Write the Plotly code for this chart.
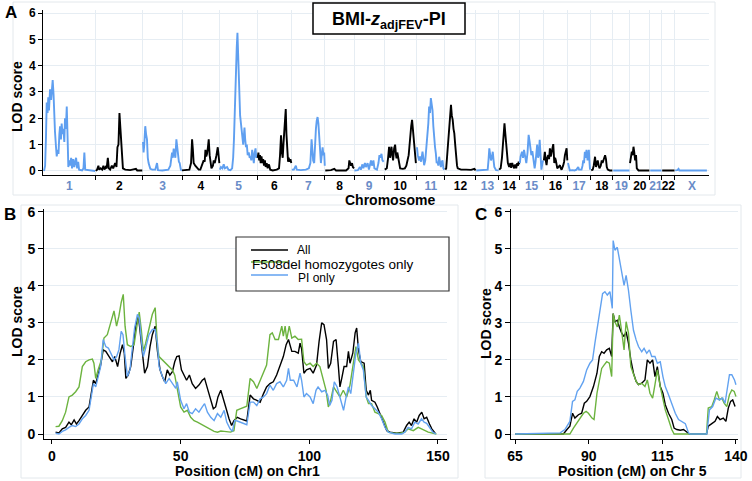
import plotly.graph_objects as go

W, H = 752, 481

# ---------------- Panel A: genome scan ----------------
chrom_names = [str(i) for i in range(1, 23)] + ["X"]
chrom_len_cm = [150, 134, 111, 107, 107, 97, 95, 83, 85, 92, 81, 88,
                65, 59, 68, 68, 66, 63, 48, 57, 34, 37, 97]

chr1_pos = [3, 6, 8.5, 10.5, 13, 15, 17, 20, 23, 25.5, 27.5, 30, 32, 34, 37, 39, 41.5, 44, 46.5, 48.5,
            51, 53, 55.5, 58, 60.5, 62.5, 65, 67.5, 70, 72, 74.5, 77, 80, 82.5, 85.5, 89, 92, 94, 97, 100,
            102.5, 111, 115, 117.5, 120, 148]
chr1_lod = [0.0, 0.2, 1.3, 2.6, 2.2, 2.8, 2.3, 3.1, 2.7, 3.2, 3.45, 2.9, 1.9, 1.5, 0.9, 0.55, 0.8, 0.65, 1.4, 1.7,
            1.2, 1.8, 1.4, 1.6, 1.1, 2.0, 1.6, 2.45, 1.2, 0.15, 0.4, 0.2, 0.5, 0.1, 0.45, 0.15, 0.4, 0.5, 0.1, 0.35,
            0.05, 0.02, 0.1, 0.7, 0.05, 0.0]
chr2_pos = [0, 3.7, 7.4, 9.4, 13.7, 18, 21.7, 24.5, 28, 30.8, 34.2, 37, 40.7, 45.6, 49.3, 55, 58.7, 61.5, 64.4,
            67.2, 70, 72, 75, 77, 83.5, 97.7, 114, 117.6, 132]
chr2_lod = [0.0, 0.05, 0.2, 0.05, 0.1, 0.05, 0.2, 0.05, 0.15, 0.1, 0.5, 0.1, 0.05, 0.2, 0.1, 0.3, 0.15, 0.9, 1.0,
            2.2, 1.6, 1.0, 0.3, 0.1, 0.05, 0.03, 0.08, 0.02, 0.02]
chr3_pos = [0, 1.7, 3.7, 6.5, 8.8, 11.4, 13.7, 16, 20.8, 26.5, 35, 39.9, 42.7, 55, 72, 77.8, 82.6, 84.9, 87.2,
            90, 92, 94.9, 97, 99.7, 102, 104.3, 107.7, 110.5]
chr3_lod = [1.1, 0.7, 1.0, 1.7, 1.4, 1.2, 0.5, 0.3, 0.08, 0.05, 0.05, 0.3, 0.03, 0.02, 0.05, 0.2, 0.7, 0.5, 0.85,
            0.6, 0.5, 1.2, 0.9, 0.55, 0.35, 0.3, 0.05, 0.02]
chr4_pos = [0, 12, 20.8, 25.6, 28.5, 30.8, 33, 37.6, 42.7, 47.3, 52, 57, 61.5, 64.4, 66.4, 68.7, 71, 73.5, 75.8,
            78.4, 80.6, 83.5, 87.8, 90, 93, 95.5, 97.8, 101.5, 103.5, 106]
chr4_lod = [0.02, 0.03, 0.05, 0.3, 1.2, 0.8, 0.3, 0.2, 0.1, 0.05, 0.05, 0.2, 0.4, 0.35, 0.8, 0.55, 0.65, 0.9, 1.2,
            0.6, 0.3, 0.1, 0.2, 0.4, 0.3, 0.55, 0.6, 0.9, 0.6, 0.3]
chr5_pos = [0.5, 3.4, 7.7, 11.4, 14.8, 21, 24.8, 30.5, 35.3, 38.2, 40.5, 42.7, 44.7, 46.7, 48.4, 50.4, 52, 54,
            56, 58, 60.4, 62.4, 64.7, 66.7, 69, 70.4, 72.4, 74.6, 77, 79.5, 82.6, 85.2, 87.5, 89.7, 92.3, 94.6,
            96.9, 99.4, 101.7, 104, 106]
chr5_lod = [0.05, 0.15, 0.1, 0.25, 0.1, 0.15, 0.05, 0.03, 0.1, 0.5, 1.2, 2.5, 3.2, 4.2, 4.7, 5.25, 4.4, 3.8,
            2.6, 2.1, 1.8, 1.5, 1.2, 1.0, 1.4, 1.65, 1.2, 0.9, 1.0, 0.6, 0.7, 0.5, 0.55, 0.4, 0.8, 0.5,
            0.3, 0.7, 0.86, 0.5, 0.55]
chr6_pos = [0.9, 3, 5, 7.4, 9.4, 11.7, 14.2, 16.5, 18.8, 21.4, 23.6, 26.5, 29.3, 33, 36.5, 43.6, 55, 61.5, 64.4,
            67.2, 69.8, 72, 74, 76.4, 78.6, 80.6, 82.6, 84.9, 87.2, 89, 91.4, 93.9, 96.3]
chr6_lod = [0.5, 0.7, 0.4, 0.6, 0.3, 0.55, 0.3, 0.45, 0.2, 0.4, 0.15, 0.3, 0.1, 0.25, 0.05, 0.02, 0.05, 0.1, 0.6,
            1.35, 0.7, 0.5, 1.0, 1.4, 1.8, 2.35, 1.4, 0.5, 0.35, 0.5, 0.35, 0.45, 0.3]
chr7_pos = [0.9, 6.6, 12.3, 15, 26.5, 40.7, 49.3, 53.6, 57, 59.3, 61.5, 64.4, 67, 69.3, 71.5, 74, 76.4, 78.7,
            81.2, 83.5, 85.8, 88.3, 90.6, 92.8, 94.5]
chr7_lod = [0.05, 0.05, 0.2, 0.05, 0.03, 0.05, 0.1, 0.3, 1.2, 0.8, 0.4, 0.3, 1.2, 1.6, 1.9, 2.05, 1.8, 1.2,
            0.7, 0.3, 0.6, 0.9, 0.6, 0.7, 0.2]
chr8_pos = [0.9, 17, 26.5, 31.3, 60, 67, 69.2, 71.8, 74, 77, 79.2, 82.6]
chr8_lod = [0.02, 0.03, 0.08, 0.02, 0.02, 0.1, 0.4, 0.3, 0.2, 0.3, 0.15, 0.1]
chr9_pos = [0.6, 10.5, 16.2, 19, 23.4, 26.2, 30.5, 33.3, 38.2, 41.9, 47.7, 50.4, 54.7, 57.5, 64.7, 69, 71.8,
            74.6, 77.5, 80.3, 83.8]
chr9_lod = [0.02, 0.03, 0.15, 0.05, 0.25, 0.1, 0.3, 0.15, 0.3, 0.05, 0.4, 0.2, 0.4, 0.1, 0.05, 0.3, 0.6,
            0.5, 0.65, 0.4, 0.35]
chr10_pos = [2, 7.7, 11.4, 14.2, 17, 21, 23.4, 25.6, 28.5, 31.3, 33.9, 35.3, 37.6, 39.9, 42.7, 45.6, 53.3, 59,
             63.2, 66.7, 69.8, 71.8, 74, 77, 79.5, 81.8, 83.8, 85.5, 88, 90.3]
chr10_lod = [0.05, 0.1, 0.5, 0.92, 0.5, 0.92, 0.6, 0.4, 0.86, 1.0, 0.6, 0.48, 0.7, 0.54, 0.2, 0.1, 0.08, 0.1,
             0.2, 0.4, 0.6, 0.9, 1.43, 1.7, 1.94, 1.6, 1.3, 0.92, 0.45, 0.3]
chr11_pos = [1.4, 3.7, 7.4, 10.3, 13.1, 17.1, 19.4, 21.7, 25, 28, 30.8, 33.6, 35.9, 38.5, 40.8, 43, 45.6, 47.9,
             50, 52.7, 55, 57.3, 59.8, 62, 64.4, 67, 69.3, 72, 74, 76.4, 79]
chr11_lod = [0.9, 0.6, 0.4, 0.55, 0.35, 0.73, 0.5, 0.22, 0.4, 0.8, 1.3, 1.8, 2.45, 2.2, 2.77, 2.5, 2.3, 1.7,
             1.18, 0.9, 0.67, 0.3, 0.35, 0.2, 0.54, 0.3, 0.15, 0.35, 0.4, 0.1, 0.05]
chr12_pos = [0.9, 3.4, 5.7, 7.7, 10, 12.3, 14.8, 17, 19.4, 21.9, 24.2, 26.5, 29, 31.3, 34.2, 36.2, 45.6, 60,
             74, 83.5, 87]
chr12_lod = [0.05, 0.1, 0.5, 0.92, 1.3, 1.81, 2.0, 2.51, 2.1, 1.94, 1.6, 1.43, 1.0, 0.54, 0.2, 0.1, 0.05, 0.05,
             0.04, 0.08, 0.02]
chr13_pos = [0.9, 14.2, 25.6, 33.3, 35.6, 37.9, 40.5, 42.7, 45, 47.7, 50, 52.1, 57, 64.4]
chr13_lod = [0.02, 0.03, 0.05, 0.05, 0.4, 0.86, 0.6, 0.4, 0.5, 0.73, 0.4, 0.15, 0.03, 0.02]
chr14_pos = [0.9, 5.1, 8.8, 11.4, 13.7, 16, 18.5, 20.8, 23, 25.6, 29.3, 32.8, 35, 37.9, 39.9, 43.6, 46.5, 49.3,
             52.1, 54.1, 56.4, 58]
chr14_lod = [0.05, 0.1, 0.5, 0.92, 1.4, 1.81, 1.4, 1.05, 0.6, 0.3, 0.15, 0.3, 0.12, 0.3, 0.22, 0.1, 0.25, 0.1,
             0.3, 0.2, 0.35, 0.25]
chr15_pos = [0.6, 2.8, 6.8, 9.7, 12.5, 15.4, 19, 22.5, 25.6, 28.5, 30.5, 33.3, 36.2, 38.2, 40.5, 42.7, 45.3,
             47.6, 49.9, 52.4, 54.7, 57, 59.6, 61.9, 64.7, 66.7]
chr15_lod = [0.3, 0.55, 0.73, 0.5, 0.8, 0.55, 0.3, 0.7, 1.37, 1.1, 0.73, 0.6, 0.75, 0.54, 0.3, 0.1, 0.35,
             0.6, 1.0, 0.5, 0.6, 1.18, 0.6, 0.05, 0.3, 0.4]
chr16_pos = [0.9, 3.7, 6.3, 8.5, 10.8, 13.4, 15.7, 18, 20.5, 22.8, 25, 27.6, 30.5, 32.8, 35, 37.6, 39, 42.7,
             46.5, 49, 51.3, 55.6, 58.4, 60.7, 63.2, 65.5, 67.5]
chr16_lod = [0.4, 0.73, 0.4, 0.22, 0.5, 0.6, 0.45, 0.86, 0.55, 0.67, 0.9, 1.02, 0.3, 0.5, 0.4, 0.2, 0.1, 0.15,
             0.22, 0.1, 0.05, 0.2, 0.35, 0.6, 0.7, 0.86, 0.4]
chr17_pos = [1.4, 4.3, 6.6, 14.2, 20, 25.6, 30.5, 32.8, 39.9, 42.7, 44.7, 47, 49.3, 51.9, 54, 57, 59.2, 60.7,
             62.7, 64]
chr17_lod = [0.3, 0.1, 0.02, 0.03, 0.02, 0.05, 0.15, 0.05, 0.05, 0.2, 0.4, 0.3, 0.73, 0.5, 0.8, 0.4, 0.6, 0.8,
             0.3, 0.05]
chr18_pos = [1.4, 5.7, 8.5, 12.3, 15, 17.7, 19.9, 22.8, 24.8, 28.5, 31.3, 33.6, 36.2, 38.5, 40.8, 43.3, 45.6,
             48.4, 54, 61.5]
chr18_lod = [0.02, 0.05, 0.2, 0.54, 0.15, 0.3, 0.4, 0.2, 0.1, 0.2, 0.4, 0.3, 0.48, 0.5, 0.6, 0.45, 0.15,
             0.05, 0.02, 0.02]
chr19_pos = [1, 15, 30, 47]
chr19_lod = [0.02, 0.03, 0.02, 0.02]
chr20_pos = [0.6, 2.8, 5.7, 8, 10.5, 12.8, 15.1, 17.7, 19.9, 24.8, 40, 55.6]
chr20_lod = [0.3, 0.45, 0.73, 0.6, 0.92, 0.7, 0.4, 0.6, 0.1, 0.02, 0.02, 0.02]
chr21_pos = [1, 17, 33]
chr21_lod = [0.02, 0.02, 0.02]
chr22_pos = [1, 18, 36]
chr22_lod = [0.02, 0.03, 0.02]
chrX_pos = [0.9, 7, 10.5, 12.8, 48, 91]
chrX_lod = [0.02, 0.03, 0.08, 0.02, 0.02, 0.02]

# ---------------- Panel B: chromosome 1 ----------------
b_all_pos = [1.4, 2.7, 4.0, 5.3, 6.6, 7.5, 8.6, 9.5, 10.5, 11.8, 13.1, 14.4, 15.3, 16.1, 17.0, 17.9, 18.9, 19.9,
             20.9, 22.2, 23.5, 24.4, 25.5, 26.5, 27.4, 28.1, 28.7, 29.6, 30.6, 31.6, 32.5, 33.6, 34.2, 35.1, 36.0,
             37.1, 38.1, 39.0, 40.1, 41.0, 42.0, 42.9, 43.8, 44.8, 45.8, 46.8, 47.7, 48.5, 49.4, 50.3, 51.3, 52.3,
             53.4, 54.5, 55.8, 57.1, 58.4, 59.3, 60.4, 61.7, 62.7, 63.6, 64.5, 65.6, 66.6, 67.5, 68.8, 69.8, 70.7,
             72.0, 73.3, 75.7, 77.0, 78.3, 79.6, 80.9, 82.2, 83.4, 84.7, 86.0, 87.3, 88.6, 89.9, 91.0, 91.9, 93.2,
             94.4, 95.7, 96.4, 97.0, 97.9, 98.9, 100.3, 101.5, 102.8, 103.8, 104.8, 105.7, 106.7, 107.4, 108.3,
             109.4, 110.4, 111.3, 111.9, 112.6, 113.5, 114.5, 115.2, 115.8, 116.9, 117.8, 118.4, 119.1, 120.0,
             121.3, 122.1, 123.0, 123.7, 124.2, 125.5, 126.4, 127.5, 128.8, 130.1, 131.4, 134.0, 136.5, 137.8,
             138.8, 139.7, 140.7, 141.7, 142.7, 143.7, 144.6, 145.6, 146.7, 147.6, 148.9]
b_all_lod = [0.05, 0.03, 0.14, 0.18, 0.32, 0.25, 0.38, 0.27, 0.36, 0.50, 0.64, 0.73, 1.09, 1.45, 1.36, 1.64, 1.86,
             2.27, 2.23, 2.09, 1.95, 2.09, 1.82, 2.18, 2.41, 2.18, 1.50, 1.59, 1.82, 2.36, 2.91, 3.18, 2.82, 2.14,
             1.64, 1.82, 2.36, 2.68, 2.91, 2.23, 1.73, 1.55, 1.41, 1.73, 1.59, 1.68, 1.95, 2.09, 2.11, 1.73, 1.59,
             1.45, 1.59, 1.36, 1.23, 1.32, 1.45, 1.50, 1.23, 0.95, 0.68, 0.73, 1.00, 1.18, 0.91, 0.73, 0.41, 0.23,
             0.36, 0.45, 0.41, 0.35, 1.05, 0.95, 0.91, 0.86, 1.09, 1.27, 1.36, 1.41, 1.59, 1.82, 2.09, 2.41, 2.55,
             2.23, 2.23, 2.18, 2.45, 2.30, 1.64, 1.73, 1.77, 1.64, 1.86, 2.50, 3.00, 2.95, 2.55, 1.77, 1.91, 2.50,
             2.55, 1.82, 1.27, 1.50, 1.82, 1.82, 2.23, 1.91, 2.18, 2.73, 2.86, 2.27, 1.95, 1.91, 1.18, 1.05, 1.18,
             0.91, 0.86, 0.73, 0.55, 0.32, 0.09, 0.05, 0.02, 0.05, 0.23, 0.32, 0.23, 0.41, 0.32, 0.50, 0.59, 0.41,
             0.45, 0.27, 0.14, 0.02]
b_f508_pos = [1.4, 2.7, 4.0, 5.3, 6.6, 7.9, 9.2, 10.5, 11.8, 13.1, 14.4, 15.7, 16.3, 17.0, 17.9, 19.2, 20.2, 21.5,
              22.8, 24.1, 25.1, 26.0, 26.9, 27.7, 28.4, 29.3, 30.6, 31.9, 33.0, 33.9, 34.7, 35.5, 36.4, 37.7, 39.0,
              40.1, 41.0, 41.6, 42.9, 44.2, 45.5, 46.8, 47.7, 48.7, 50.0, 51.3, 52.6, 53.9, 55.2, 56.5, 57.8, 59.1,
              60.4, 61.7, 63.0, 64.3, 65.6, 66.9, 68.2, 69.4, 70.7, 71.8, 73.1, 75.7, 77.0, 78.3, 79.6, 80.9, 82.2,
              83.4, 84.7, 85.6, 86.7, 88.0, 89.3, 89.9, 90.6, 91.2, 92.2, 93.2, 94.4, 95.7, 97.0, 97.9, 98.9, 100.3,
              101.5, 102.8, 104.1, 105.4, 106.5, 107.4, 108.3, 109.4, 110.6, 111.9, 113.2, 114.5, 115.8, 117.1,
              118.1, 119.1, 120.0, 121.0, 122.1, 123.0, 124.2, 125.5, 126.8, 128.1, 129.4, 130.7, 132.6, 135.2,
              137.1, 138.4, 140.4, 142.3, 143.6, 144.9, 146.2, 149.4]
b_f508_lod = [0.20, 0.21, 0.36, 0.59, 1.00, 1.05, 1.14, 1.27, 1.82, 1.95, 2.00, 2.02, 1.91, 1.50, 1.73, 2.00, 2.59,
              2.68, 3.00, 3.32, 2.91, 3.18, 3.55, 3.77, 2.91, 2.41, 2.36, 2.41, 2.91, 3.29, 2.82, 2.23, 2.45, 2.82,
              3.23, 3.41, 2.36, 2.09, 2.00, 1.91, 1.82, 1.73, 1.59, 1.18, 0.73, 0.59, 0.64, 0.45, 0.36, 0.32, 0.27,
              0.23, 0.18, 0.11, 0.07, 0.05, 0.08, 0.07, 0.05, 0.05, 0.09, 0.64, 0.68, 0.75, 1.50, 1.41, 1.23, 1.45,
              1.68, 1.86, 2.68, 2.73, 2.55, 2.55, 2.91, 2.64, 2.91, 2.55, 2.91, 2.59, 2.64, 2.55, 2.56, 1.95, 1.86,
              1.91, 1.82, 1.91, 1.82, 1.50, 1.18, 0.73, 0.91, 1.27, 1.14, 1.00, 1.18, 1.00, 1.32, 1.86, 2.36, 2.00,
              1.91, 1.82, 1.00, 0.82, 0.82, 0.59, 0.55, 0.50, 0.32, 0.05, 0.02, 0.02, 0.05, 0.14, 0.09, 0.18, 0.14,
              0.09, 0.05, 0.00]
b_pi_pos = [1.4, 2.7, 4.0, 5.3, 6.6, 7.9, 9.2, 10.5, 11.8, 13.1, 14.4, 15.3, 16.1, 17.0, 17.9, 18.9, 19.9, 20.9,
            21.9, 22.8, 24.1, 25.1, 26.0, 26.9, 27.6, 28.4, 29.3, 30.3, 31.2, 32.1, 33.2, 33.9, 34.7, 35.5, 36.4,
            37.7, 39.0, 40.1, 41.0, 41.6, 42.9, 44.2, 45.5, 46.8, 48.1, 48.7, 50.0, 51.3, 52.3, 53.4, 54.5, 55.8,
            57.1, 58.4, 59.3, 60.4, 61.7, 63.0, 64.3, 65.6, 66.9, 67.9, 69.2, 70.1, 71.0, 72.0, 73.1, 75.7, 77.0,
            78.3, 79.6, 80.9, 82.2, 83.4, 84.7, 86.0, 87.3, 88.6, 89.9, 91.2, 91.9, 92.6, 93.9, 95.2, 96.4, 97.0,
            97.9, 98.9, 100.3, 101.5, 102.6, 103.4, 104.8, 106.1, 107.1, 107.9, 108.8, 109.7, 110.8, 111.8, 112.7,
            113.3, 114.3, 115.2, 116.1, 117.1, 118.1, 119.1, 120.0, 121.0, 122.1, 123.0, 124.2, 125.5, 126.8,
            128.1, 129.4, 130.7, 133.3, 135.9, 137.1, 138.4, 139.7, 141.0, 142.3, 143.6, 144.6, 145.6, 146.7,
            148.0, 149.2]
b_pi_lod = [0.02, 0.00, 0.07, 0.11, 0.18, 0.23, 0.20, 0.27, 0.41, 0.50, 0.64, 1.00, 1.36, 1.27, 1.55, 1.82, 2.55,
            2.36, 2.32, 2.18, 2.00, 2.09, 2.27, 2.77, 2.68, 2.09, 1.55, 1.73, 2.27, 2.86, 3.23, 3.14, 2.55, 2.09,
            2.32, 2.68, 2.82, 2.82, 2.45, 1.82, 1.55, 1.36, 1.50, 1.36, 1.23, 1.41, 0.91, 0.68, 0.82, 0.59, 0.55,
            0.68, 0.59, 0.73, 0.82, 0.59, 0.45, 0.36, 0.55, 0.45, 0.64, 0.32, 0.14, 0.07, 0.36, 0.35, 0.32, 0.25,
            0.86, 0.86, 0.77, 0.95, 1.00, 1.09, 1.32, 1.18, 1.36, 1.41, 1.27, 1.45, 1.77, 1.45, 1.45, 1.27, 1.64,
            1.45, 1.00, 1.09, 1.00, 0.82, 1.18, 1.27, 1.14, 1.18, 1.05, 0.77, 0.91, 1.41, 1.27, 1.00, 0.77, 0.64,
            1.00, 1.27, 1.09, 1.64, 2.18, 2.45, 1.91, 1.73, 1.00, 0.91, 0.77, 0.68, 0.59, 0.41, 0.18, 0.05, 0.00,
            0.00, 0.05, 0.18, 0.14, 0.32, 0.27, 0.41, 0.32, 0.29, 0.18, 0.05, 0.00]

# ---------------- Panel C: chromosome 5 ----------------
c_all_pos = [65, 81.4, 82.6, 83.6, 84.5, 85.3, 86.5, 87.6, 88.5, 89.3, 90.4, 91.6, 92.8, 93.6, 94.4, 95.2, 96.1,
             97.0, 97.8, 98.3, 98.9, 99.7, 100.4, 101.2, 102.0, 102.7, 103.5, 104.3, 105.2, 106.1, 106.9, 108.0,
             109.1, 109.9, 110.8, 111.7, 112.5, 113.3, 114.3, 115.2, 116.0, 117.1, 118.2, 119.0, 119.9, 121.1,
             122.2, 123.4, 124.2, 130.0, 130.6, 131.8, 132.9, 133.7, 134.6, 135.7, 136.6, 137.4, 138.2, 138.9, 139.7]
c_all_lod = [0, 0, 0.12, 0.21, 0.56, 0.43, 0.52, 0.56, 0.83, 0.88, 1.01, 1.28, 1.64, 2.09, 2.22, 2.18, 2.27, 2.31,
             2.09, 3.25, 3.03, 3.07, 2.89, 2.72, 2.63, 2.76, 2.45, 2.00, 1.64, 1.42, 1.33, 1.37, 1.46, 2.00, 1.91,
             2.00, 1.55, 1.82, 1.28, 1.10, 0.79, 0.56, 0.39, 0.16, 0.12, 0.10, 0.12, 0.05, 0, 0, 0.21, 0.28, 0.34,
             0.47, 0.39, 0.43, 0.34, 0.70, 0.88, 0.92, 0.74]
c_f508_pos = [65, 83.6, 84.8, 85.9, 87.0, 88.2, 89.1, 89.9, 91.1, 91.8, 92.8, 93.6, 94.4, 95.2, 96.1, 97.0, 97.8,
              98.3, 98.9, 99.7, 100.4, 101.2, 102.0, 102.7, 103.5, 104.3, 105.2, 106.1, 106.9, 108.0, 109.1, 109.9,
              110.8, 111.7, 112.5, 113.3, 114.3, 115.2, 116.0, 117.1, 118.2, 119.0, 130.0, 130.6, 131.8, 132.6,
              133.5, 134.4, 135.2, 136.0, 136.9, 137.8, 138.6, 139.4, 140.0]
c_f508_lod = [0, 0, 0.16, 0.30, 0.43, 0.56, 0.61, 0.56, 0.43, 0.39, 1.10, 1.46, 1.77, 1.86, 1.95, 1.91, 1.55, 3.25,
              3.03, 2.89, 3.21, 2.76, 2.27, 3.03, 2.72, 1.82, 1.64, 1.42, 1.33, 1.37, 1.28, 1.46, 1.10, 0.97, 1.33,
              1.73, 1.28, 0.92, 0.65, 0.39, 0.12, 0, 0, 0.70, 0.74, 0.92, 1.15, 0.92, 0.97, 0.83, 0.74, 1.06, 1.19,
              1.15, 1.01]
c_pi_pos = [65, 80.3, 81.9, 83.6, 84.5, 85.3, 86.1, 87.0, 88.2, 89.3, 90.4, 91.3, 92.1, 92.9, 93.8, 94.7, 95.5,
            96.3, 97.2, 98.0, 98.3, 98.9, 99.7, 100.4, 101.2, 102.0, 102.7, 103.5, 104.3, 105.2, 106.1, 106.9,
            108.0, 108.8, 109.7, 110.6, 111.4, 112.5, 113.3, 114.3, 115.2, 116.0, 117.1, 118.2, 119.4, 120.5,
            121.6, 122.8, 123.9, 124.4, 130.1, 131.0, 132.1, 133.2, 134.4, 135.5, 136.3, 137.1, 137.8, 138.6,
            139.5, 140.0]
c_pi_lod = [0, 0.03, 0.12, 0.34, 0.88, 0.92, 1.15, 1.24, 1.42, 1.73, 1.91, 2.00, 2.45, 2.89, 3.34, 3.79, 3.84,
            3.75, 3.84, 3.39, 5.22, 4.96, 5.04, 4.69, 4.33, 4.01, 4.28, 3.88, 3.34, 2.80, 2.54, 2.36, 2.22, 2.31,
            2.18, 2.27, 2.09, 2.09, 1.91, 1.95, 1.55, 1.28, 1.06, 0.83, 0.56, 0.39, 0.34, 0.28, 0.03, 0, 0, 0.65,
            0.74, 0.97, 0.92, 0.97, 0.83, 1.28, 1.60, 1.60, 1.46, 1.33]

series_names = ["All", "F508del homozygotes only", "PI only"]
lod_ticks = [0, 1, 2, 3, 4, 5, 6]
b_ticks = [0, 50, 100, 150]
c_ticks = [65, 90, 115, 140]

# ---------------- styling ----------------
BLUE_A = "#5f9ff0"
LABEL_BLUE = "#6a8cc8"
BLACK = "#000000"
GREEN = "#6cb33f"
BLUE_B = "#62a2f0"
GRID = "#e6edf3"
BOX = "#e3e8ec"
FONT = "Liberation Sans, Arial, sans-serif"


def px(x):
    return x / W


def py(y):
    return 1 - y / H


chrom_pos = [chr1_pos, chr2_pos, chr3_pos, chr4_pos, chr5_pos, chr6_pos, chr7_pos, chr8_pos, chr9_pos,
             chr10_pos, chr11_pos, chr12_pos, chr13_pos, chr14_pos, chr15_pos, chr16_pos, chr17_pos,
             chr18_pos, chr19_pos, chr20_pos, chr21_pos, chr22_pos, chrX_pos]
chrom_lod = [chr1_lod, chr2_lod, chr3_lod, chr4_lod, chr5_lod, chr6_lod, chr7_lod, chr8_lod, chr9_lod,
             chr10_lod, chr11_lod, chr12_lod, chr13_lod, chr14_lod, chr15_lod, chr16_lod, chr17_lod,
             chr18_lod, chr19_lod, chr20_lod, chr21_lod, chr22_lod, chrX_lod]

offsets = []
acc = 0
for L in chrom_len_cm:
    offsets.append(acc)
    acc += L
total_len = acc
mids = [o + L / 2 for o, L in zip(offsets, chrom_len_cm)]

fig = go.Figure()

for i, (p, l) in enumerate(zip(chrom_pos, chrom_lod)):
    col = BLUE_A if i % 2 == 0 else BLACK
    fig.add_trace(go.Scatter(x=[offsets[i] + v for v in p], y=l, mode="lines",
                             line=dict(color=col, width=1.9), xaxis="x", yaxis="y",
                             showlegend=False, hoverinfo="skip"))

line_cols = [BLACK, GREEN, BLUE_B]
for (pp, ll), col, nm in zip([(b_all_pos, b_all_lod), (b_f508_pos, b_f508_lod), (b_pi_pos, b_pi_lod)],
                             line_cols, series_names):
    fig.add_trace(go.Scatter(x=pp, y=ll, mode="lines", name=nm, line=dict(color=col, width=1.4),
                             xaxis="x2", yaxis="y2", showlegend=False))
for (pp, ll), col, nm in zip([(c_all_pos, c_all_lod), (c_f508_pos, c_f508_lod), (c_pi_pos, c_pi_lod)],
                             line_cols, series_names):
    fig.add_trace(go.Scatter(x=pp, y=ll, mode="lines", name=nm, line=dict(color=col, width=1.4),
                             xaxis="x3", yaxis="y3", showlegend=False))

tick_text = []
for i, n in enumerate(chrom_names):
    c = LABEL_BLUE if i % 2 == 0 else BLACK
    tick_text.append(f"<span style='color:{c}'><b>{n}</b></span>")

axis_common = dict(showline=True, linecolor="black", linewidth=1, zeroline=False, automargin=False,
                   ticks="outside", tickcolor="black", tickwidth=1, fixedrange=True, tickangle=0)

fig.update_layout(
    width=W, height=H, margin=dict(l=0, r=0, t=0, b=0, pad=0), autosize=False,
    paper_bgcolor="white", plot_bgcolor="white",
    font=dict(family=FONT, color="black"),
    xaxis=dict(domain=[px(43), px(709)], range=[0, total_len], anchor="y",
               showline=True, linecolor="black", linewidth=1, zeroline=False, automargin=False,
               tickmode="array", tickvals=mids, ticktext=tick_text, ticks="", tickangle=0,
               tickfont=dict(size=12, family=FONT), showgrid=False, fixedrange=True,
               minor=dict(tickmode="array", tickvals=offsets[1:], ticks="outside", ticklen=4,
                          tickcolor="black", showgrid=True, gridcolor=GRID, gridwidth=1)),
    yaxis=dict(domain=[py(174.9), py(10.4)], range=[-0.15, 6.1], anchor="x",
               tickmode="array", tickvals=lod_ticks, ticklen=4,
               tickfont=dict(size=12, weight="bold", family=FONT), showgrid=True, gridcolor=GRID,
               **axis_common),
    xaxis2=dict(domain=[px(44), px(447)], range=[-3.1, 153.5], anchor="y2",
                tickmode="array", tickvals=b_ticks, ticklen=4,
                tickfont=dict(size=14, weight="bold", family=FONT), showgrid=False, **axis_common),
    yaxis2=dict(domain=[py(439), py(209.1)], range=[-0.135, 6.07], anchor="x2",
                tickmode="array", tickvals=lod_ticks, ticklen=5,
                tickfont=dict(size=14, weight="bold", family=FONT), showgrid=True, gridcolor=GRID,
                **axis_common),
    xaxis3=dict(domain=[px(511), px(738)], range=[63.6, 140.7], anchor="y3",
                tickmode="array", tickvals=c_ticks, ticklen=4,
                tickfont=dict(size=14, weight="bold", family=FONT), showgrid=False, **axis_common),
    yaxis3=dict(domain=[py(439), py(209.1)], range=[-0.135, 6.07], anchor="x3",
                tickmode="array", tickvals=lod_ticks, ticklen=5,
                tickfont=dict(size=14, weight="bold", family=FONT), showgrid=True, gridcolor=GRID,
                **axis_common),
)

shapes = []
# faint panel frames
for (x0, y0, x1, y1) in [(13, 2, 715, 195), (21, 205, 458, 478), (485, 205, 741, 478)]:
    shapes.append(dict(type="rect", xref="paper", yref="paper", x0=px(x0), x1=px(x1), y0=py(y1), y1=py(y0),
                       line=dict(color=BOX, width=1), fillcolor="rgba(0,0,0,0)", layer="below"))
# title box
shapes.append(dict(type="rect", xref="paper", yref="paper", x0=px(313), x1=px(465), y0=py(34), y1=py(3),
                   line=dict(color="black", width=1.5), fillcolor="white"))
# legend box and keys
shapes.append(dict(type="rect", xref="paper", yref="paper", x0=px(236), x1=px(449), y0=py(291), y1=py(237),
                   line=dict(color="#333333", width=1.2), fillcolor="white"))
for col, yy in zip(line_cols, [250, 262, 275]):
    shapes.append(dict(type="line", xref="paper", yref="paper", x0=px(251), x1=px(288), y0=py(yy), y1=py(yy),
                       line=dict(color=col, width=1.4)))
fig.update_layout(shapes=shapes)

ann = []


def add_text(text, x, y, size, xanchor="center", yanchor="middle", angle=0, color="black"):
    ann.append(dict(text=text, x=px(x), y=py(y), xref="paper", yref="paper", showarrow=False,
                    xanchor=xanchor, yanchor=yanchor, textangle=angle,
                    font=dict(family=FONT, size=size, color=color)))


add_text("<b>A</b>", 11, 12, 17)
add_text("<b>B</b>", 10, 214, 17)
add_text("<b>C</b>", 481, 214, 17)
add_text("<b>BMI-<i>z</i><sub>adjFEV</sub>-PI</b>", 389, 20, 18)
add_text("<b>LOD score</b>", 17, 97, 14, angle=-90)
add_text("<b>LOD score</b>", 17, 322, 14, angle=-90)
add_text("<b>LOD score</b>", 486, 324, 14, angle=-90)
add_text("<b>Chromosome</b>", 390, 200, 14)
add_text("<b>Position (cM) on Chr1</b>", 247, 471, 14)
add_text("<b>Position (cM) on Chr 5</b>", 632, 471, 14)
add_text(series_names[0], 295, 250, 12, xanchor="left")
add_text(series_names[1], 250, 264, 13.5, xanchor="left")
add_text(series_names[2], 296, 277.5, 12, xanchor="left")
fig.update_layout(annotations=ann)

fig.write_html("out.html", config={"displayModeBar": False},
               post_script="document.body.style.margin='0px';")
